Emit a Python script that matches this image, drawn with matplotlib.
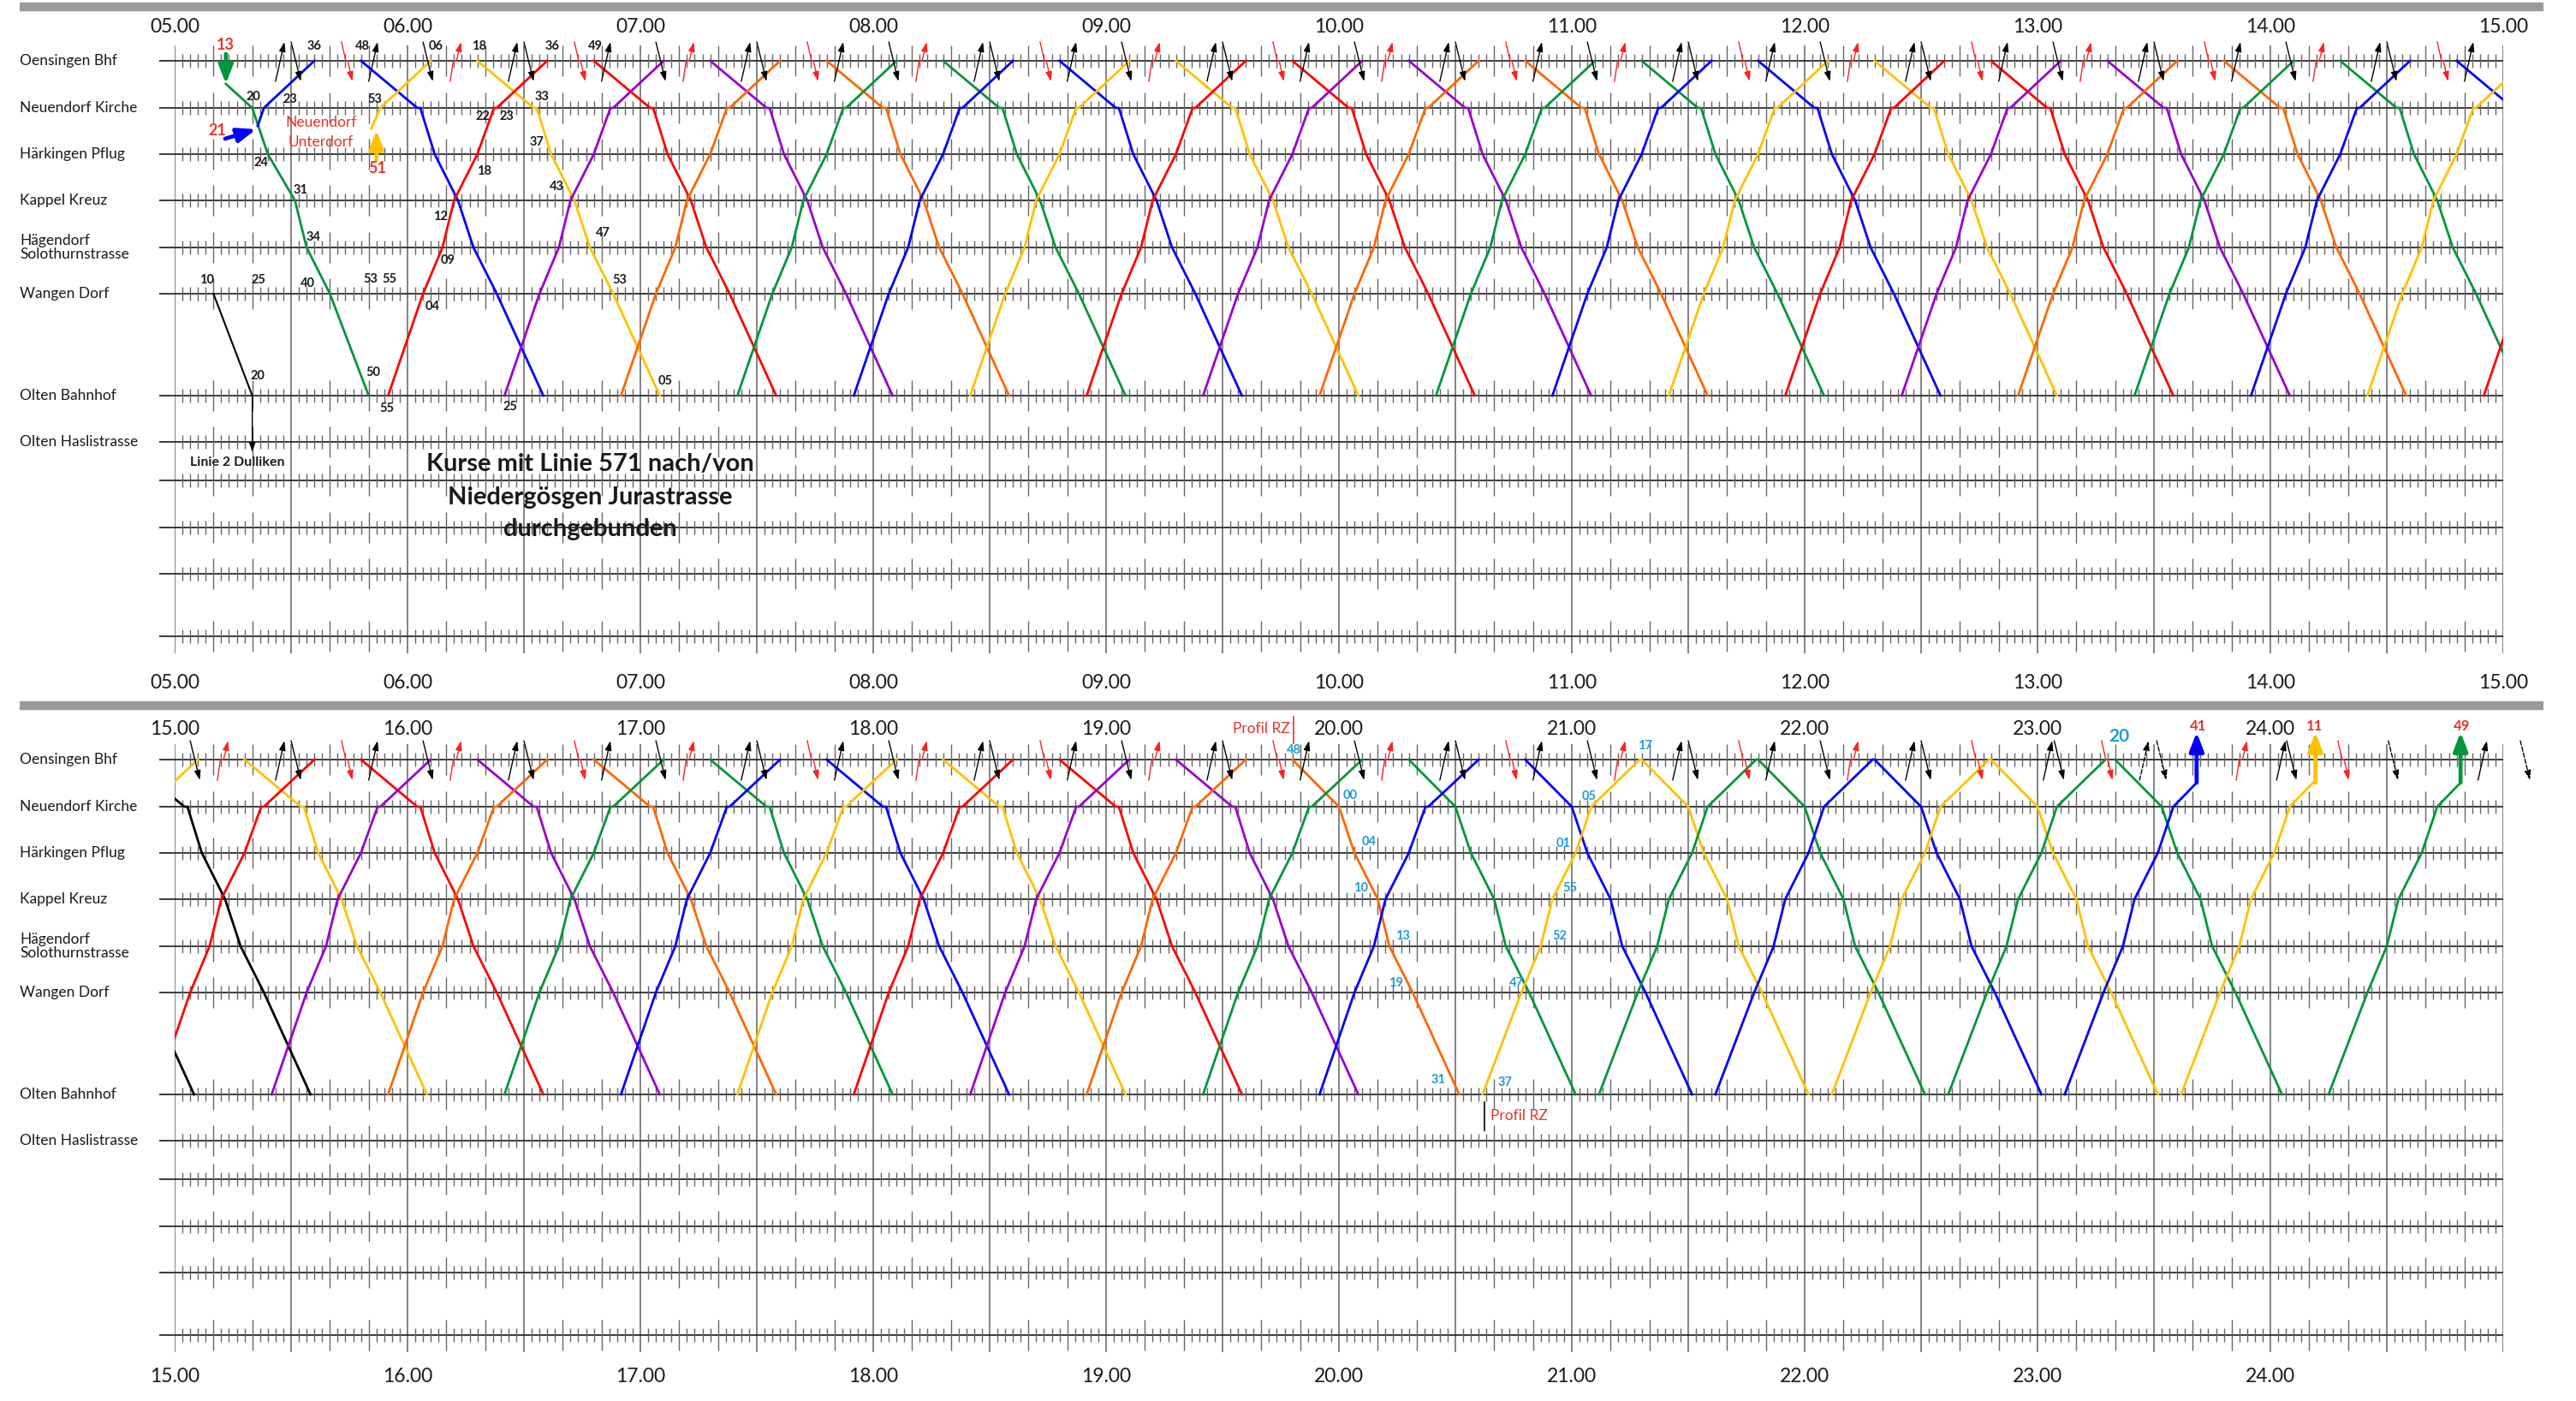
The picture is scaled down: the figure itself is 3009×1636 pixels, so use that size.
import numpy as np
import matplotlib.pyplot as plt
from matplotlib.collections import LineCollection

plt.rcParams['font.family'] = ['Lato', 'DejaVu Sans']


def hrs(s):
    h, m = s.split(":")
    return int(h) + float(m) / 60.0


# --- Stationen / Zeilen (Abstand in Pixel-Einheiten) ---
stations = ["Oensingen Bhf", "Neuendorf Kirche", "Härkingen Pflug", "Kappel Kreuz",
            "Hägendorf\nSolothurnstrasse", "Wangen Dorf", "Olten Bahnhof", "Olten Haslistrasse"]
station_y = [0, 55, 109, 163, 218, 272, 391, 445]
spare_rows_y = [490, 545, 599, 672]

colors = {"B": "#0000ff", "Y": "#ffc000", "R": "#ff0000", "P": "#9900cc",
          "O": "#ff6600", "G": "#009639", "K": "#000000"}

# --- Fahrzeitprofile (Minuten ab Abfahrt), Haltestellen-Index ---
down_stops = [0, 1, 1, 2, 3, 4, 5, 6]
down_min = [0, 14.5, 15.3, 19, 25, 29, 35, 47]
up_stops = [6, 5, 4, 3, 2, 1, 1, 0]
up_min = [0, 9, 14, 17, 23, 27.3, 28, 41]
down_rz_stops = [0, 1, 2, 3, 4, 5, 6]
down_rz_min = [0, 12, 16, 22, 25, 31, 43]
up_rz_stops = [6, 5, 4, 3, 2, 1, 0]
up_rz_min = [0, 10, 15, 18, 24, 28, 40.5]
depot_min = [0, 10, 15, 18, 24, 28, 34]
depot_end_y = 27

# --- Kurse ---
down_times = ("05:48 06:18 06:48 07:18 07:48 08:18 08:48 09:18 09:48 10:18 10:48 11:18 11:48 12:18 "
              "12:48 13:18 13:48 14:18 14:48 15:18 15:48 16:18 16:48 17:18 17:48 18:18 18:48 19:18").split()
down_cols = "B Y R P O G B Y R P O G B Y R P O G B Y R P O G B Y R P".split()
down_rz_times = "19:48 20:18 20:48 21:18 21:48 22:18 22:48 23:20".split()
down_rz_cols = "O G B Y G B Y G".split()
up_times = ("05:55 06:25 06:55 07:25 07:55 08:25 08:55 09:25 09:55 10:25 10:55 11:25 11:55 12:25 "
            "12:55 13:25 13:55 14:25 14:55 15:25 15:55 16:25 16:55 17:25 17:55 18:25 18:55 19:25 19:55").split()
up_cols = "R P O G B Y R P O G B Y R P O G B Y R P O G B Y R P O G B".split()
up_rz_times = "20:37 21:07 21:37 22:07 22:37".split()
up_rz_cols = "Y G B Y G".split()
depot_times = "23:07 23:37 24:15".split()
depot_cols = "B Y G".split()
depot_arrow_t = "23:41 24:11.6 24:49".split()

# Sonderkurse am Morgen (Zeit, Position)
green_first_t = "05:13.2 05:20 05:24 05:31 05:34 05:40 05:50".split()
green_first_y = [27, 55, 109, 163, 218, 272, 391]
blue_first_t = "05:21.4 05:23 05:36".split()
blue_first_y = [76, 55, 0]
yellow_first_t = "05:50.7 05:53 06:06".split()
yellow_first_y = [79, 55, 0]
linie2_t = "05:10 05:20".split()
linie2_y = [272, 391]

# --- Anschluesse in Oensingen (Pfeile) ---
black_up = ("05:26 05:50 06:26 06:50 07:26 07:50 08:26 08:50 09:26 09:50 10:26 10:50 11:26 11:50 "
            "12:26 12:50 13:26 13:50 14:26 14:50 15:26 15:50 16:26 16:50 17:26 17:50 18:26 18:50 "
            "19:26 19:50 20:26 20:50 21:26 21:50 22:26 23:01.5 24:01.6 24:53.5").split()
black_down = ("05:30 06:04 06:30 07:04 07:30 08:04 08:30 09:04 09:30 10:04 10:30 11:04 11:30 12:04 "
              "12:30 13:04 13:30 14:04 14:30 15:04 15:30 16:04 16:30 17:04 17:30 18:04 18:30 19:04 "
              "19:30 20:04 20:30 21:04 21:30 22:04 22:30 23:04.3 24:04.2").split()
red_down = ("05:43 06:43 07:43 08:43 09:43 10:43 11:43 12:43 13:43 14:43 15:43 16:43 17:43 18:43 "
            "19:43 20:43 21:43 22:43 23:16.5 24:17.4").split()
red_up = ("06:11 07:11 08:11 09:11 10:11 11:11 12:11 13:11 14:11 15:11 16:11 17:11 18:11 19:11 "
          "20:11 21:11 22:11 23:51.2").split()
dash_up = ["23:26.3"]
dash_down = "23:30.7 24:30.4 25:04.4".split()

# --- Beschriftungen ---
top_labels = [("05:36", -17, "36"), ("05:48.4", -17, "48"), ("06:07.3", -17, "06"),
              ("06:18.5", -17, "18"), ("06:37.4", -17, "36"), ("06:48.3", -17, "49"),
              ("05:20.3", 42, "20"), ("05:29.8", 45, "23"), ("05:51.6", 45, "53"),
              ("06:19.4", 65, "22"), ("06:25.5", 65, "23"), ("06:34.6", 42, "33"),
              ("06:33.4", 95, "37"), ("05:22.3", 119, "24"), ("06:19.7", 129, "18"),
              ("05:32.4", 151, "31"), ("06:38.5", 147, "43"), ("06:08.4", 182, "12"),
              ("05:35.7", 206, "34"), ("06:50.3", 201, "47"), ("06:10.4", 233, "09"),
              ("05:08.3", 256, "10"), ("05:21.6", 256, "25"), ("05:34.3", 260, "40"),
              ("05:50.4", 255, "53"), ("05:55.4", 255, "55"), ("06:54.6", 256, "53"),
              ("06:06.4", 287, "04"), ("05:21.4", 368, "20"), ("05:51.2", 364, "50"),
              ("07:06.4", 374, "05"), ("05:54.6", 406, "55"), ("06:26.5", 404, "25")]
top_red_labels = [("05:13.1", -19, "13"), ("05:10.9", 82, "21"), ("05:52.3", 126, "51")]
bottom_cyan_labels = [("19:48.5", -11, "48"), ("20:02.9", 42, "00"), ("20:07.7", 96, "04"),
                      ("20:05.7", 150, "10"), ("20:16.5", 206, "13"), ("20:14.6", 261, "19"),
                      ("20:25.5", 374, "31"), ("20:42.8", 377, "37"), ("20:45.7", 261, "47"),
                      ("20:56.9", 206, "52"), ("20:59.6", 150, "55"), ("20:57.8", 98, "01"),
                      ("21:04.5", 43, "05"), ("21:18.8", -16, "17")]
bottom_red_labels = [("23:41.3", -39, "41"), ("24:11.3", -39, "11"), ("24:49.4", -39, "49")]

MIN = 1 / 60.0


def small_arrow(ax, p0, p1, color, ls="-"):
    ax.annotate("", xy=p1, xytext=p0, annotation_clip=False, zorder=4,
                arrowprops=dict(arrowstyle="-|>,head_length=0.6,head_width=0.2", color=color,
                                lw=1.0, ls=ls, shrinkA=0, shrinkB=0, mutation_scale=11))


def thick_arrow(ax, p0, p1, color):
    ax.annotate("", xy=p1, xytext=p0, annotation_clip=False, zorder=4,
                arrowprops=dict(arrowstyle="-|>,head_length=0.65,head_width=0.25", color=color,
                                lw=3.4, shrinkA=0, shrinkB=0, mutation_scale=20))


def trip(ax, dep, mins, stops, col, end_y=None):
    x = [hrs(dep) + m * MIN for m in mins]
    y = [station_y[s] for s in stops]
    if end_y is not None:
        y.append(end_y)
    ax.plot(x, y, color=colors[col], lw=2.0, zorder=3)


def panel(ax, t0, lab_top, lab_bot, y_top):
    ax.set_xlim(t0, t0 + 10)
    ax.set_ylim(818 + y_top, y_top)
    ax.axis("off")
    inrange = lambda s: t0 <= hrs(s) < t0 + 10
    inrange_ext = lambda s: t0 <= hrs(s) < t0 + 10.2

    # grauer Balken
    ax.plot([t0 - 0.665, t0 + 10.173], [-63, -63], color="#9a9a9a", lw=7.5,
            solid_capstyle="butt", clip_on=False)
    # Raster
    ax.vlines(np.arange(t0, t0 + 10.01, 0.5), -18, 692, color="#6e6e6e", lw=1.2, zorder=1)
    rows = station_y + spare_rows_y
    ax.hlines(rows, t0 - 18 / 272, t0 + 10, color="#2b2b2b", lw=1.3, clip_on=False, zorder=1)
    segs = []
    for y in rows:
        for m in range(2, 600, 2):
            if m % 30 == 0:
                continue
            d = 18 if m % 10 == 0 else 8
            segs.append([(t0 + m * MIN, y - d), (t0 + m * MIN, y + d)])
    ax.add_collection(LineCollection(segs, colors="#666666", linewidths=1.0, zorder=1), autolim=False)

    hours = [h for h in range(t0, t0 + 11) if h < 25]
    for h in hours:
        ax.text(h, lab_top, "%02d.00" % h, ha="center", va="center", fontsize=16.5, color="#1a1a1a")
        ax.text(h, lab_bot, "%02d.00" % h, ha="center", va="center", fontsize=16.5, color="#1a1a1a")
    for name, y in zip(stations, station_y):
        ax.text(t0 - 0.6654, y, name, ha="left", va="center", fontsize=12.5,
                linespacing=1.0, color="#1a1a1a")

    # Kurse
    for t, c in zip(down_times, down_cols):
        trip(ax, t, down_min, down_stops, "K" if hrs(t) < t0 else c)
    for t, c in zip(down_rz_times, down_rz_cols):
        trip(ax, t, down_rz_min, down_rz_stops, c)
    for t, c in zip(up_times, up_cols):
        trip(ax, t, up_min, up_stops, c)
    for t, c in zip(up_rz_times, up_rz_cols):
        trip(ax, t, up_rz_min, up_rz_stops, c)
    for t, c in zip(depot_times, depot_cols):
        trip(ax, t, depot_min, up_rz_stops[:-1], c, end_y=depot_end_y)

    # Anschlusspfeile
    for t in filter(inrange, black_up):
        x = hrs(t)
        small_arrow(ax, (x, 24), (x + 2.3 * MIN, -22), "black")
    for t in filter(inrange, black_down):
        x = hrs(t)
        small_arrow(ax, (x, -22), (x + 2.5 * MIN, 24), "black")
    for t in filter(inrange, dash_up):
        x = hrs(t)
        small_arrow(ax, (x, 24), (x + 2.3 * MIN, -22), "black", ls="--")
    for t in filter(inrange_ext, dash_down):
        x = hrs(t)
        small_arrow(ax, (x, -22), (x + 2.5 * MIN, 24), "black", ls="--")
    for t in filter(inrange, red_down):
        x = hrs(t)
        ax.plot([x, x + 1.1 * MIN, x + 1.6 * MIN], [-22, 0, 0], color="#ff2020", lw=1.0, zorder=4)
        small_arrow(ax, (x + 1.6 * MIN, 0), (x + 2.8 * MIN, 24), "#ff2020")
    for t in filter(inrange, red_up):
        x = hrs(t)
        ax.plot([x, x + 0.8 * MIN, x + 1.6 * MIN], [24, 0, 0], color="#ff2020", lw=1.0, zorder=4)
        small_arrow(ax, (x + 1.6 * MIN, 0), (x + 2.8 * MIN, -22), "#ff2020")


fig = plt.figure(figsize=(30.09, 16.36), dpi=100)
ax1 = fig.add_axes([204 / 3009, 0.5, 2720 / 3009, 0.5])
ax2 = fig.add_axes([204 / 3009, 0.0, 2720 / 3009, 0.5])
panel(ax1, 5, -39, 727, -71)
panel(ax2, 15, -35, 720, -69)

# --- Morgen (oben) ---
ax1.plot([hrs(t) for t in green_first_t], green_first_y, color=colors["G"], lw=2.0, zorder=3)
ax1.plot([hrs(t) for t in blue_first_t], blue_first_y, color=colors["B"], lw=2.0, zorder=3)
ax1.plot([hrs(t) for t in yellow_first_t], yellow_first_y, color=colors["Y"], lw=2.0, zorder=3)
ax1.plot([hrs(t) for t in linie2_t], linie2_y, color="black", lw=1.5, zorder=3)
small_arrow(ax1, (hrs("05:20"), 391), (hrs("05:20"), 457), "black")
thick_arrow(ax1, (hrs("05:13.2"), -8), (hrs("05:13.2"), 27), colors["G"])
thick_arrow(ax1, (hrs("05:13"), 91), (hrs("05:21"), 80), colors["B"])
thick_arrow(ax1, (hrs("05:52"), 116), (hrs("05:52"), 81), colors["Y"])

for t, y, s in top_labels:
    ax1.text(hrs(t), y, s, ha="center", va="center", fontsize=10.5, fontweight="bold", color="#1a1a1a", zorder=5)
for t, y, s in top_red_labels:
    ax1.text(hrs(t), y, s, ha="center", va="center", fontsize=13, fontweight="bold", color="#e8332a", zorder=5)
ax1.text(hrs("05:37.7"), 72, "Neuendorf", ha="center", va="center", fontsize=12.5, color="#e8332a")
ax1.text(hrs("05:37.7"), 95, "Unterdorf", ha="center", va="center", fontsize=12.5, color="#e8332a")
ax1.text(hrs("05:16.2"), 469, "Linie 2 Dulliken", ha="center", va="center", fontsize=11.5,
         fontweight="bold", color="#1a1a1a")
for y, s in zip([471, 510, 547], ["Kurse mit Linie 571 nach/von", "Niedergösgen Jurastrasse", "durchgebunden"]):
    ax1.text(hrs("06:47"), y, s, ha="center", va="center", fontsize=21, fontweight="bold", color="#1a1a1a")

# --- Abend (unten) ---
for t, c in zip(depot_arrow_t, depot_cols):
    thick_arrow(ax2, (hrs(t), 27), (hrs(t), -32), colors[c])
for t, y, s in bottom_cyan_labels:
    ax2.text(hrs(t), y, s, ha="center", va="center", fontsize=10.5, fontweight="bold", color="#1f9bd7", zorder=5)
ax2.text(hrs("23:21"), -27, "20", ha="center", va="center", fontsize=15, fontweight="bold", color="#1f9bd7")
for t, y, s in bottom_red_labels:
    ax2.text(hrs(t), y, s, ha="center", va="center", fontsize=12, fontweight="bold", color="#e8332a")
ax2.text(hrs("19:40.1"), -36, "Profil RZ", ha="center", va="center", fontsize=12.5, color="#e8332a")
ax2.plot([hrs("19:48.3")] * 2, [-50, -19], color="#e8332a", lw=1.2, clip_on=False)
ax2.text(hrs("20:39"), 416, "Profil RZ", ha="left", va="center", fontsize=12.5, color="#e8332a")
ax2.plot([hrs("20:37.5")] * 2, [400, 433], color="black", lw=1.2)

fig.savefig("out.png", dpi=100)
